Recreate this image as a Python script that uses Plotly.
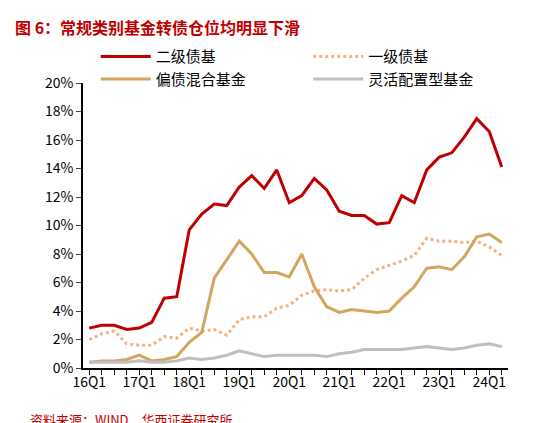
import plotly.graph_objects as go

quarters = [f"{y}Q{q}" for y in range(16, 25) for q in range(1, 5)][:34]
tick_labels = [f"{y}Q1" for y in range(16, 25)]

erji = [2.8, 3.0, 3.0, 2.7, 2.8, 3.2, 4.9, 5.0, 9.7, 10.8, 11.5, 11.4, 12.7, 13.5, 12.6, 13.9,
        11.6, 12.1, 13.3, 12.5, 11.0, 10.7, 10.7, 10.1, 10.2, 12.1, 11.6, 13.9, 14.8, 15.1, 16.2, 17.5,
        16.6, 14.1]
yiji = [2.0, 2.4, 2.6, 1.7, 1.6, 1.6, 2.2, 2.1, 2.8, 2.6, 2.7, 2.3, 3.4, 3.6, 3.6, 4.2,
        4.4, 5.1, 5.4, 5.5, 5.4, 5.5, 6.3, 6.9, 7.2, 7.5, 7.9, 9.1, 8.9, 8.9, 8.8, 8.9,
        8.5, 7.9]
piandai = [0.4, 0.5, 0.5, 0.6, 0.9, 0.5, 0.6, 0.8, 1.8, 2.5, 6.3, 7.6, 8.9, 8.0, 6.7, 6.7,
           6.4, 8.0, 5.7, 4.3, 3.9, 4.1, 4.0, 3.9, 4.0, 4.9, 5.7, 7.0, 7.1, 6.9, 7.8, 9.2,
           9.4, 8.8]
linghuo = [0.4, 0.4, 0.4, 0.4, 0.5, 0.4, 0.4, 0.5, 0.7, 0.6, 0.7, 0.9, 1.2, 1.0, 0.8, 0.9,
           0.9, 0.9, 0.9, 0.8, 1.0, 1.1, 1.3, 1.3, 1.3, 1.3, 1.4, 1.5, 1.4, 1.3, 1.4, 1.6,
           1.7, 1.5]

font = "Noto Sans CJK SC"
fig = go.Figure()
fig.add_trace(go.Scatter(x=quarters, y=erji, name="二级债基", mode="lines",
                         line=dict(color="#C00000", width=3)))
fig.add_trace(go.Scatter(x=quarters, y=yiji, name="一级债基", mode="lines",
                         line=dict(color="#F4B183", width=3, dash="dot")))
fig.add_trace(go.Scatter(x=quarters, y=piandai, name="偏债混合基金", mode="lines",
                         line=dict(color="#D4A55F", width=3)))
fig.add_trace(go.Scatter(x=quarters, y=linghuo, name="灵活配置型基金", mode="lines",
                         line=dict(color="#BFBFBF", width=3)))

fig.update_layout(
    width=533, height=423, plot_bgcolor="white", paper_bgcolor="white",
    margin=dict(l=75, r=33, t=75, b=63),
    font=dict(family=font, size=14, color="black"),
    legend=dict(orientation="h", x=0.03, y=1.15, xanchor="left", yanchor="top",
                entrywidth=0.5, entrywidthmode="fraction", font=dict(size=15),
                itemwidth=50),
    xaxis=dict(type="category", tickvals=tick_labels, ticktext=tick_labels,
               showline=True, linecolor="black", linewidth=1.5, ticks="", showgrid=False,
               range=[-0.5, 33.5]),
    yaxis=dict(range=[0, 20], dtick=2, tickformat=".0f", ticksuffix="%",
               showline=True, linecolor="black", linewidth=1.5, ticks="outside",
               ticklen=5, showgrid=False),
    annotations=[
        dict(text="<b>图 6：常规类别基金转债仓位均明显下滑</b>", x=-70/425, y=1 + 70/285,
             xref="paper", yref="paper", xanchor="left", yanchor="top", showarrow=False,
             font=dict(size=16, color="#C00000", family=font)),
        dict(text="资料来源：WIND，华西证券研究所", x=-55/425, y=-40/285,
             xref="paper", yref="paper", xanchor="left", yanchor="top", showarrow=False,
             font=dict(size=13, color="#C00000", family=font)),
    ],
)
# minor ticks on each quarter
fig.update_xaxes(minor=dict(ticks="outside", ticklen=5, tickcolor="black", dtick=1))
fig.write_html("out.html")
